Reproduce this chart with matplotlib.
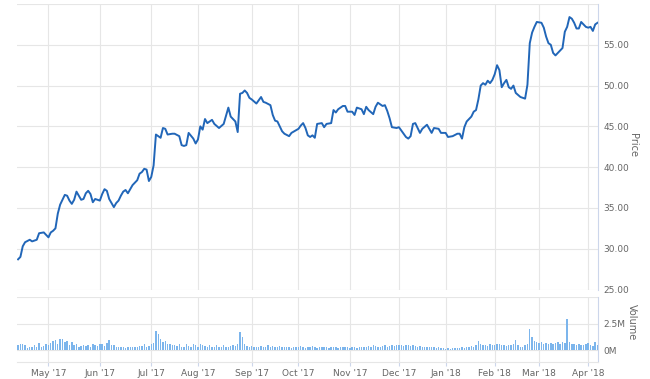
import numpy as np
import pandas as pd
import matplotlib
matplotlib.use("Agg")
import matplotlib.pyplot as plt

# trading calendar (Apr 11 2017 - Apr 6 2018), US market holidays removed
holidays = ['2017-04-14', '2017-05-29', '2017-07-04', '2017-09-04', '2017-11-23',
            '2017-12-25', '2018-01-01', '2018-01-15', '2018-02-19', '2018-03-30']
dates = pd.bdate_range('2017-04-11', '2018-04-06', freq='C', holidays=holidays)

# price readings: trading day index -> close
day = [0, 1, 2, 3, 5, 6, 7, 8, 9, 11, 12, 13, 14, 15, 16, 17, 18, 20, 21, 22,
       23, 24, 25, 26, 27, 28, 29, 30, 31, 32, 33, 34, 35, 36, 37, 38, 39, 41, 42, 43,
       44, 45, 46, 47, 48, 49, 51, 52, 53, 54, 55, 56, 57, 58, 59, 60, 61, 62, 63, 64,
       66, 67, 69, 70, 71, 72, 73, 75, 76, 77, 78, 79, 80, 81, 83, 84, 86, 88, 90, 91,
       93, 94, 95, 96, 97, 98, 99, 100, 102, 104, 105, 106, 108, 109, 110, 111, 113, 114, 116, 117,
       120, 121, 122, 123, 124, 125, 126, 127, 128, 130, 131, 132, 134, 135, 136, 137, 139, 140, 141, 143,
       144, 145, 147, 148, 149, 150, 152, 153, 154, 156, 157, 158, 159, 160, 162, 163, 164, 166, 167, 168,
       169, 170, 172, 173, 175, 177, 178, 180, 181, 183, 184, 186, 188, 189, 190, 191, 192, 194, 195, 196,
       197, 198, 199, 200, 201, 202, 203, 204, 205, 206, 207, 208, 209, 210, 211, 212, 213, 215, 217, 218,
       219, 220, 221, 222, 224, 225, 226, 227, 228, 229, 230, 231, 232, 233, 234, 235, 236, 237, 238, 239,
       240, 241, 243, 244, 245, 246, 247, 248]
price = [28.7, 29.0, 30.3, 30.8, 31.1, 30.9, 31.0, 31.1, 31.9, 32.0, 31.7, 31.4, 32.0, 32.2, 32.5, 34.3, 35.4, 36.6, 36.5, 35.9,
         35.5, 36.0, 37.0, 36.5, 36.0, 36.1, 36.8, 37.1, 36.7, 35.7, 36.1, 36.0, 35.9, 36.7, 37.3, 37.1, 36.1, 35.1, 35.6, 35.9,
         36.5, 37.0, 37.2, 36.8, 37.3, 37.8, 38.4, 39.2, 39.4, 39.8, 39.7, 38.3, 38.8, 40.2, 44.0, 43.8, 43.6, 44.8, 44.7, 44.0,
         44.1, 44.1, 43.8, 42.7, 42.6, 42.7, 44.2, 43.5, 42.9, 43.4, 45.0, 44.6, 45.9, 45.4, 45.8, 45.3, 44.8, 45.3, 47.3, 46.2,
         45.6, 44.3, 49.0, 49.1, 49.4, 49.1, 48.5, 48.3, 47.8, 48.6, 48.0, 47.9, 47.6, 46.4, 45.7, 45.6, 44.4, 44.1, 43.8, 44.2,
         44.7, 45.1, 45.4, 44.8, 43.9, 43.7, 43.9, 43.6, 45.3, 45.4, 44.9, 45.3, 45.4, 47.0, 46.7, 47.1, 47.5, 47.5, 46.8, 46.8,
         46.4, 47.3, 47.1, 46.5, 47.4, 47.0, 46.5, 47.4, 47.9, 47.5, 47.6, 46.9, 46.0, 44.9, 44.8, 44.9, 44.5, 43.7, 43.5, 43.8,
         45.3, 45.4, 44.2, 44.7, 45.2, 44.2, 44.8, 44.7, 44.2, 44.2, 43.7, 43.8, 44.1, 44.1, 43.5, 44.9, 45.6, 46.2, 46.8, 47.0,
         48.3, 50.0, 50.3, 50.1, 50.6, 50.3, 50.7, 51.4, 52.5, 51.9, 49.8, 50.3, 50.7, 49.8, 49.6, 50.0, 49.1, 48.6, 48.4, 50.1,
         55.2, 56.5, 57.2, 57.8, 57.7, 57.1, 56.0, 55.2, 55.0, 54.0, 53.7, 54.0, 54.3, 54.6, 56.6, 57.2, 58.4, 58.2, 57.7, 57.0,
         57.0, 57.8, 57.2, 57.1, 57.2, 56.7, 57.5, 57.7]

# daily volume, millions of shares
volume = [0.5, 0.55, 0.55, 0.5, 0.25, 0.3, 0.35, 0.5, 0.3, 0.7,
          0.35, 0.4, 0.6, 0.45, 0.7, 0.9, 1.0, 0.6, 1.05, 1.1,
          0.8, 0.9, 0.5, 0.8, 0.5, 0.6, 0.35, 0.4, 0.5, 0.4,
          0.45, 0.35, 0.6, 0.45, 0.4, 0.55, 0.6, 0.4, 0.65, 0.95,
          0.5, 0.45, 0.35, 0.3, 0.35, 0.3, 0.25, 0.3, 0.3, 0.35,
          0.3, 0.3, 0.4, 0.4, 0.55, 0.3, 0.4, 0.6, 0.7, 1.85,
          1.5, 1.1, 0.8, 0.9, 0.6, 0.55, 0.5, 0.45, 0.4, 0.6,
          0.35, 0.3, 0.55, 0.4, 0.35, 0.6, 0.5, 0.3, 0.55, 0.45,
          0.4, 0.3, 0.5, 0.3, 0.3, 0.45, 0.3, 0.35, 0.5, 0.3,
          0.35, 0.4, 0.5, 0.4, 0.6, 1.75, 1.2, 0.55, 0.4, 0.35,
          0.4, 0.3, 0.35, 0.3, 0.4, 0.35, 0.3, 0.45, 0.35, 0.4,
          0.3, 0.35, 0.4, 0.3, 0.35, 0.3, 0.3, 0.25, 0.3, 0.35,
          0.3, 0.4, 0.3, 0.25, 0.35, 0.3, 0.4, 0.3, 0.25, 0.3,
          0.3, 0.35, 0.3, 0.25, 0.3, 0.35, 0.3, 0.25, 0.3, 0.35,
          0.3, 0.3, 0.25, 0.3, 0.3, 0.25, 0.3, 0.35, 0.3, 0.35,
          0.4, 0.35, 0.45, 0.4, 0.35, 0.3, 0.4, 0.45, 0.35, 0.4,
          0.45, 0.4, 0.5, 0.45, 0.5, 0.4, 0.45, 0.5, 0.4, 0.45,
          0.4, 0.35, 0.4, 0.35, 0.3, 0.35, 0.3, 0.35, 0.3, 0.25,
          0.3, 0.25, 0.2, 0.15, 0.2, 0.15, 0.2, 0.2, 0.25, 0.2,
          0.3, 0.25, 0.35, 0.3, 0.4, 0.35, 0.5, 0.9, 0.6, 0.5,
          0.45, 0.4, 0.55, 0.5, 0.45, 0.6, 0.55, 0.45, 0.5, 0.4,
          0.5, 0.45, 0.6, 1.0, 0.5, 0.3, 0.35, 0.45, 0.6, 2.0,
          1.2, 0.9, 0.8, 0.7, 0.75, 0.6, 0.65, 0.55, 0.7, 0.6,
          0.7, 0.75, 0.6, 0.8, 0.7, 2.9, 0.75, 0.6, 0.55, 0.5,
          0.6, 0.5, 0.45, 0.6, 0.7, 0.5, 0.4, 0.75, 0.45]

price_ticks = [25, 30, 35, 40, 45, 50, 55, 60]
vol_ticks = [0, 2.5, 5]
vol_labels = ['0M', '2.5M', '']

# first trading day of each month -> tick
month_idx = [i for i in range(1, len(dates)) if dates[i].month != dates[i - 1].month]
month_lbl = [dates[i].strftime("%b '%y") for i in month_idx]

grid_c = '#e6e6e6'
axis_c = '#ccd6eb'
text_c = '#666666'

fig = plt.figure(figsize=(6.5, 3.79), dpi=100)
ax = fig.add_axes([0.026, 0.2361, 0.894, 0.7533])
axv = fig.add_axes([0.026, 0.0449, 0.894, 0.1715], sharex=ax)

ax.plot(day, price, color='#2166b8', lw=1.4, solid_joinstyle='round')
axv.bar(np.arange(len(volume)), volume, width=0.6, color='#7cb5ec', linewidth=0)

for a in (ax, axv):
    a.set_xticks(month_idx)
    a.grid(True, color=grid_c, lw=0.8)
    a.set_axisbelow(True)
    a.yaxis.tick_right()
    a.tick_params(axis='y', length=0, pad=4, labelsize=6.5, colors=text_c)
    for s in ('left', 'top', 'bottom'):
        a.spines[s].set_visible(False)
    a.spines['right'].set_color(axis_c)

ax.set_xlim(-0.5, 248.2)
ax.set_ylim(25, 60)
ax.set_yticks(price_ticks)
ax.set_yticklabels(['%.2f' % v if v < 60 else '' for v in price_ticks])
ax.tick_params(axis='x', length=0, labelbottom=False)

axv.set_ylim(-1.1, 5.0)
axv.set_yticks(vol_ticks)
axv.set_yticklabels(vol_labels)
axv.spines['bottom'].set_visible(True)
axv.spines['bottom'].set_color(grid_c)
axv.set_xticklabels(month_lbl)
axv.tick_params(axis='x', length=3, color=axis_c, pad=2, labelsize=6.5, labelcolor=text_c)

fig.text(0.974, 0.617, 'Price', rotation=270, ha='center', va='center', fontsize=7, color=text_c)
fig.text(0.972, 0.150, 'Volume', rotation=270, ha='center', va='center', fontsize=7, color=text_c)

fig.savefig('out.png', dpi=100)
